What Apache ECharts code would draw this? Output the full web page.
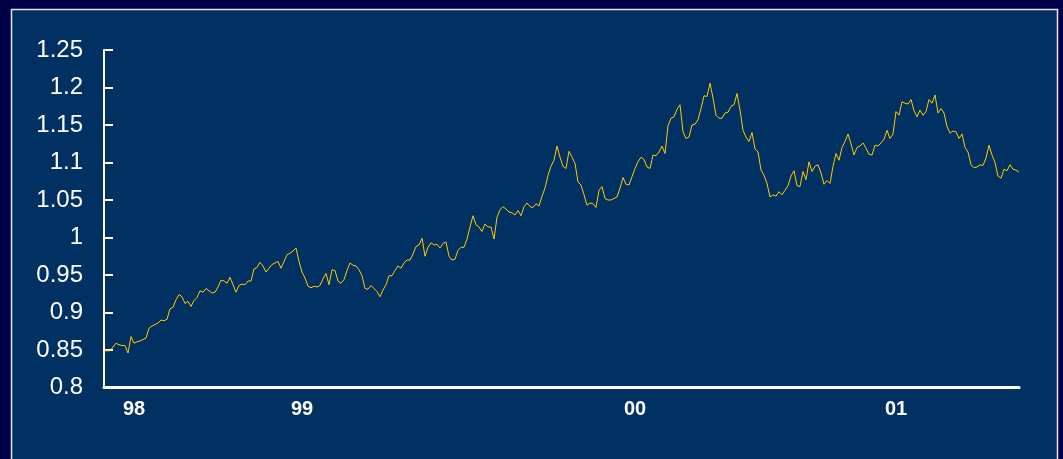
<!DOCTYPE html>
<html>
<head>
<meta charset="utf-8">
<script src="https://cdn.jsdelivr.net/npm/echarts@6/dist/echarts.min.js"></script>
<style>
html,body{margin:0;padding:0;background:#00004A;}
#chart{width:1063px;height:459px;}
</style>
</head>
<body>
<div id="chart"></div>
<script>
// Series values (one per trading period, evenly spaced)
const seg1 = [0.849,0.849,0.849,0.854,0.859,0.857,0.856,0.856,0.846,0.868,0.859,0.861,0.862,0.864,0.866,0.879,0.882,0.884,0.886,0.890,0.889,0.891,0.905,0.907,0.917,0.924,0.921,0.912,0.915,0.908,0.916,0.920,0.929,0.927,0.932,0.929,0.926,0.927,0.934,0.943,0.942,0.939,0.947,0.937,0.927,0.936,0.938,0.937,0.942,0.942,0.958,0.960,0.967];
const seg2 = [0.962,0.954,0.959,0.964,0.966,0.968,0.959,0.968,0.977,0.979,0.982,0.986,0.968,0.954,0.946,0.935,0.933,0.935,0.934,0.936,0.945,0.952,0.937,0.957,0.956,0.942,0.939,0.944,0.956,0.966,0.963,0.962,0.957,0.949,0.932,0.931,0.936,0.932,0.928,0.921,0.930,0.937,0.949,0.949,0.956,0.962,0.959,0.966,0.970,0.970,0.978];
const seg3 = [0.988,0.990,0.999,0.975,0.987,0.993,0.990,0.991,0.986,0.992,0.994,0.975,0.970,0.971,0.983,0.987,0.987,0.998,1.014,1.029,1.017,1.014,1.008,1.018,1.014,1.014,0.998,1.027,1.037,1.041,1.038,1.034,1.033,1.030,1.036,1.029,1.041,1.046,1.041,1.040,1.045,1.042,1.055,1.066,1.083,1.095,1.103,1.122,1.107,1.095,1.092,1.115];
const seg4 = [1.107,1.099,1.074,1.070,1.057,1.043,1.046,1.045,1.040,1.063,1.068,1.052,1.050,1.050,1.052,1.054,1.066,1.080,1.071,1.070,1.081,1.092,1.101,1.107,1.104,1.094,1.092,1.110,1.109,1.114,1.122,1.112,1.149,1.159,1.161,1.171,1.177,1.141,1.132,1.134,1.150,1.151,1.157,1.172,1.189,1.188,1.206,1.186,1.163,1.159,1.159];
const seg5 = [1.166,1.167,1.175,1.177,1.192,1.170,1.143,1.134,1.128,1.140,1.118,1.114,1.090,1.083,1.072,1.054,1.057,1.055,1.061,1.057,1.063,1.069,1.082,1.089,1.069,1.068,1.088,1.077,1.101,1.088,1.095,1.097,1.086,1.071,1.076,1.072,1.095,1.112,1.103,1.120,1.128,1.138,1.125,1.110,1.120,1.122,1.126,1.119,1.111,1.110,1.123,1.122];
const seg6 = [1.126,1.131,1.143,1.132,1.138,1.168,1.163,1.181,1.179,1.178,1.184,1.169,1.161,1.170,1.163,1.168,1.184,1.179,1.190,1.166,1.172,1.166,1.148,1.139,1.142,1.141,1.132,1.138,1.120,1.114,1.097,1.093,1.094,1.097,1.096,1.106,1.123,1.110,1.100,1.082,1.079,1.091,1.089,1.097,1.091,1.090,1.087];

// Tick labels
const xTickLabels = ['98','99','00','01'];
const xTickIdx = [10, 66, 177, 264];
const yTicks = [0.8,0.85,0.9,0.95,1,1.05,1.1,1.15,1.2,1.25];

const values = [].concat(seg1, seg2, seg3, seg4, seg5, seg6);
const categories = values.map((_, i) => String(i));

const chart = echarts.init(document.getElementById('chart'), null, {renderer:'canvas'});
chart.setOption({
  backgroundColor: '#00004A',
  animation: false,
  graphic: [{
    type: 'rect', z: -100, silent: true,
    shape: {x: 11.5, y: 9.5, width: 1046, height: 470},
    style: {fill: '#003162', stroke: '#E6E6EE', lineWidth: 1.5}
  }],
  grid: {left: 104, right: 44, top: 50, bottom: 71.5, containLabel: false},
  xAxis: {
    type: 'category',
    data: categories,
    boundaryGap: false,
    axisLine: {show: true, lineStyle: {color: '#FFFFFF', width: 3, cap: 'round'}},
    axisTick: {show: false},
    splitLine: {show: false},
    axisLabel: {
      interval: (i) => xTickIdx.indexOf(i) >= 0,
      formatter: (v, i) => { const k = xTickIdx.indexOf(i); return k >= 0 ? xTickLabels[k] : ''; },
      color: '#FFFFFF', fontSize: 20, fontWeight: 'bold',
      fontFamily: 'Liberation Sans, Arial, sans-serif', margin: 12
    }
  },
  yAxis: {
    type: 'value',
    min: yTicks[0], max: yTicks[yTicks.length - 1], interval: 0.05,
    axisLine: {show: true, lineStyle: {color: '#FFFFFF', width: 2}},
    axisTick: {show: true, inside: true, length: 9, lineStyle: {color: '#FFFFFF', width: 2}},
    splitLine: {show: false},
    axisLabel: {
      formatter: (v) => String(parseFloat(v.toFixed(2))),
      color: '#FFFFFF', fontSize: 24,
      fontFamily: 'Liberation Sans, Arial, sans-serif', margin: 21
    }
  },
  series: [{
    type: 'line',
    data: values,
    showSymbol: false,
    symbol: 'none',
    lineStyle: {color: '#FFCC00', width: 1},
    z: 3
  }]
});
</script>
</body>
</html>
